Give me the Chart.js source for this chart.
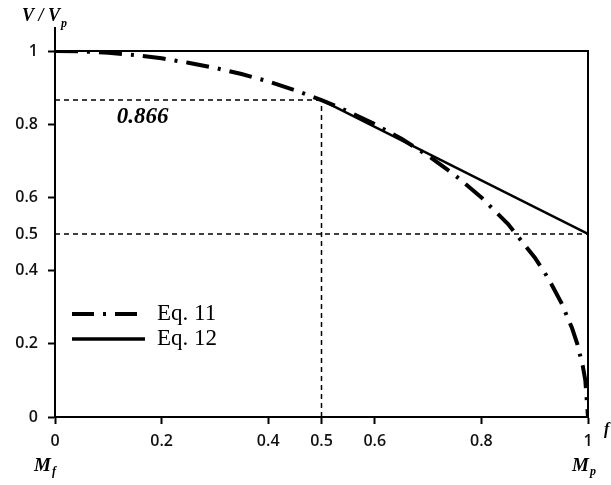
<!DOCTYPE html>
<html>
<head>
<meta charset="utf-8">
<script src="https://cdn.jsdelivr.net/npm/chart.js@4"></script>
<style>
  html, body { margin: 0; padding: 0; background: #fff; }
  #wrap { width: 611px; height: 485px; }
</style>
</head>
<body>
<div id="wrap"><canvas id="chart" width="611" height="485"></canvas></div>
<script>
// values
const eq11X = [0, 0.05, 0.1, 0.15, 0.2, 0.25, 0.3, 0.35, 0.4, 0.45, 0.5, 0.55, 0.6, 0.65, 0.7, 0.75, 0.8, 0.85, 0.9, 0.925, 0.95, 0.97, 0.98, 0.99, 0.995, 1];
const eq11Y = [1, 0.999, 0.995, 0.989, 0.98, 0.968, 0.954, 0.937, 0.917, 0.893, 0.866, 0.835, 0.8, 0.76, 0.714, 0.661, 0.6, 0.527, 0.436, 0.38, 0.312, 0.243, 0.199, 0.141, 0.1, 0];
const eq12X = [0.5, 1];
const eq12Y = [0.866, 0.5];
const xTicks = [0, 0.2, 0.4, 0.5, 0.6, 0.8, 1];
const yTicks = [0, 0.2, 0.4, 0.5, 0.6, 0.8, 1];
const refValue = 0.866;

const toPts = (xs, ys) => xs.map((x, i) => ({ x, y: ys[i] }));

const refLines = [
  toPts([0, 0.5], [refValue, refValue]),
  toPts([0.5, 0.5], [0, refValue]),
  toPts([0, 1], [0.5, 0.5])
];

const tickFont = { family: 'Open Sans', size: 16, weight: '600' };

const extras = {
  id: 'extras',
  afterDraw(chart) {
    const { ctx, chartArea: a, scales: { x, y } } = chart;
    ctx.save();
    // frame top/right, y axis runs up past the frame
    ctx.strokeStyle = '#000';
    ctx.lineWidth = 2;
    ctx.beginPath();
    ctx.moveTo(a.left, a.top);
    ctx.lineTo(a.right, a.top);
    ctx.lineTo(a.right, a.bottom);
    ctx.moveTo(a.left, a.top);
    ctx.lineTo(a.left, 27);
    ctx.stroke();

    ctx.fillStyle = '#000';
    ctx.textBaseline = 'middle';
    // 0.866 label
    ctx.font = 'bold italic 23px "Liberation Serif"';
    ctx.textAlign = 'left';
    ctx.fillText('0.866', x.getPixelForValue(0.116), y.getPixelForValue(0.82));

    // axis titles
    ctx.font = 'bold italic 18px "Liberation Serif"';
    ctx.fillText('V / V', 22, 16);
    ctx.font = 'bold italic 12px "Liberation Serif"';
    ctx.fillText('p', 61, 24);

    ctx.font = 'bold italic 19px "Liberation Serif"';
    ctx.fillText('M', 34, 466);
    ctx.fillText('M', 572, 466);
    ctx.font = 'bold italic 12px "Liberation Serif"';
    ctx.fillText('f', 52, 472);
    ctx.fillText('p', 590, 472);
    ctx.font = 'bold italic 16px "Liberation Serif"';
    ctx.fillText('f', 604, 430);

    // legend
    const items = [
      { label: 'Eq. 11', dash: [22, 9, 3, 9], w: 4, y: 314 },
      { label: 'Eq. 12', dash: [], w: 3.5, y: 339 }
    ];
    ctx.font = '23px "Liberation Serif"';
    items.forEach(it => {
      ctx.beginPath();
      ctx.setLineDash(it.dash);
      ctx.lineWidth = it.w;
      ctx.moveTo(72, it.y);
      ctx.lineTo(145, it.y);
      ctx.stroke();
      ctx.setLineDash([]);
      ctx.fillText(it.label, 157, it.y);
    });
    ctx.restore();
  }
};

new Chart(document.getElementById('chart'), {
  type: 'scatter',
  data: {
    datasets: [
      {
        label: 'Eq. 11',
        data: toPts(eq11X, eq11Y),
        showLine: true,
        borderColor: '#000',
        borderWidth: 4,
        borderDash: [23, 9, 3, 9],
        pointRadius: 0,
        tension: 0
      },
      {
        label: 'Eq. 12',
        data: toPts(eq12X, eq12Y),
        showLine: true,
        borderColor: '#000',
        borderWidth: 2.5,
        pointRadius: 0
      },
      ...refLines.map(pts => ({
        data: pts,
        showLine: true,
        borderColor: '#000',
        borderWidth: 1.5,
        borderDash: [5, 4],
        pointRadius: 0
      }))
    ]
  },
  options: {
    responsive: false,
    animation: false,
    layout: { padding: { top: 51, right: 23, left: 0, bottom: 0 } },
    plugins: { legend: { display: false }, tooltip: { enabled: false } },
    scales: {
      x: {
        type: 'linear',
        min: 0,
        max: 1,
        afterBuildTicks: s => { s.ticks = xTicks.map(v => ({ value: v })); },
        afterFit: s => { s.height = 68; },
        ticks: { color: '#111', font: tickFont, padding: 8, autoSkip: false, maxRotation: 0,
          callback: v => String(v) },
        grid: { drawOnChartArea: false, tickLength: 7, tickColor: '#000', tickWidth: 2 },
        border: { color: '#000', width: 2 }
      },
      y: {
        type: 'linear',
        min: 0,
        max: 1,
        afterBuildTicks: s => { s.ticks = yTicks.map(v => ({ value: v })); },
        afterFit: s => { s.width = 55; },
        ticks: { color: '#111', font: tickFont, padding: 10, autoSkip: false,
          callback: v => String(v) },
        grid: { drawOnChartArea: false, tickLength: 7, tickWidth: 2,
          tickColor: c => (c.tick && c.tick.value === 0.5 ? 'rgba(0,0,0,0)' : '#000') },
        border: { color: '#000', width: 2 }
      }
    }
  },
  plugins: [extras]
});
</script>
</body>
</html>
